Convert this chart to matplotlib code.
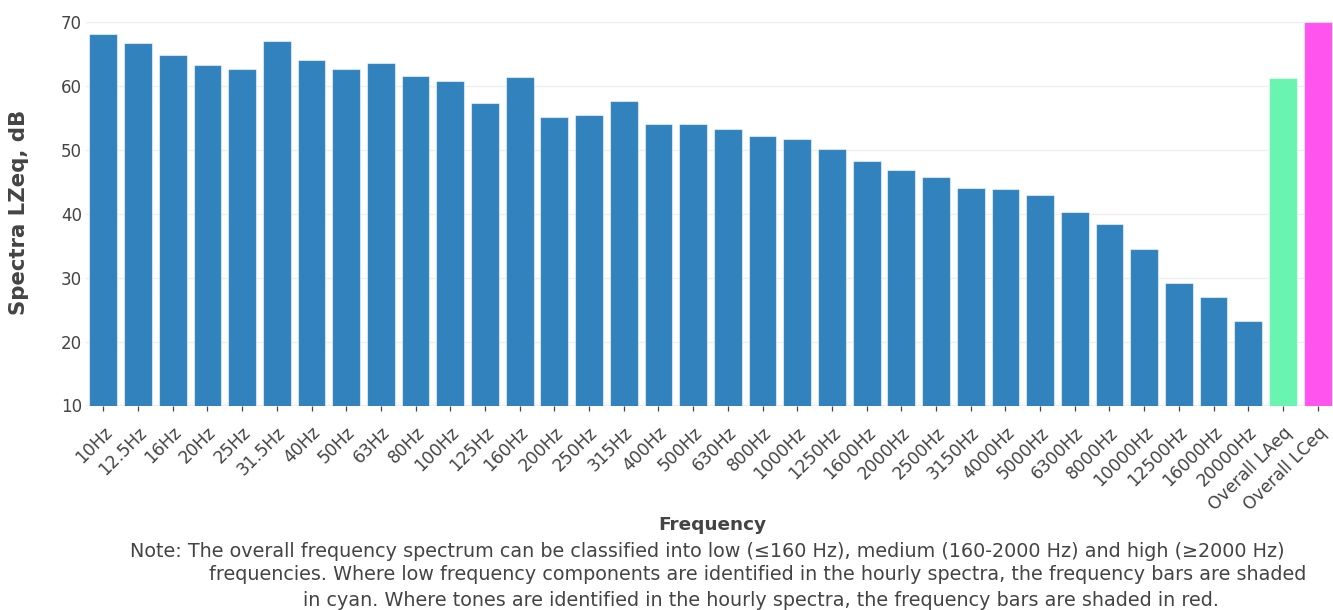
import matplotlib
matplotlib.use("Agg")
import matplotlib.pyplot as plt
import matplotlib.transforms as mtransforms

# Third-octave band levels plus overall A- and C-weighted levels
bands = ["10Hz", "12.5Hz", "16Hz", "20Hz", "25Hz", "31.5Hz", "40Hz", "50Hz",
         "63Hz", "80Hz", "100Hz", "125Hz", "160Hz", "200Hz", "250Hz", "315Hz",
         "400Hz", "500Hz", "630Hz", "800Hz", "1000Hz", "1250Hz", "1600Hz",
         "2000Hz", "2500Hz", "3150Hz", "4000Hz", "5000Hz", "6300Hz", "8000Hz",
         "10000Hz", "12500Hz", "16000Hz", "20000Hz"]
band_levels = [68.2, 66.7, 64.8, 63.2, 62.6, 67.0, 64.0, 62.6,
               63.6, 61.6, 60.8, 57.3, 61.4, 55.2, 55.4, 57.7,
               54.0, 54.1, 53.2, 52.1, 51.7, 50.1, 48.2,
               46.9, 45.8, 44.1, 43.8, 42.9, 40.2, 38.4,
               34.5, 29.2, 27.0, 23.2]
overall_labels = ["Overall LAeq", "Overall LCeq"]
overall_levels = [61.2, 70.0]

y_ticks = [10, 20, 30, 40, 50, 60, 70]

note_lines = [
    "Note: The overall frequency spectrum can be classified into low (\u2264160 Hz), medium (160-2000 Hz) and high (\u22652000 Hz)",
    "frequencies. Where low frequency components are identified in the hourly spectra, the frequency bars are shaded",
    "in cyan. Where tones are identified in the hourly spectra, the frequency bars are shaded in red.",
]

BAND_COLOR = "#3182bd"
OVERALL_COLORS = ["#69f4b0", "#ff55ee"]
TEXT = "#444444"

W, H = 1333, 610
fig = plt.figure(figsize=(W / 100, H / 100), dpi=100)
plt.rcParams["font.family"] = ["DejaVu Sans"]

left, right, top, bottom = 86, 1335, 22, 405.5
ax = fig.add_axes([left / W, 1 - bottom / H, (right - left) / W, (bottom - top) / H])

labels = bands + overall_labels
values = band_levels + overall_levels
colors = [BAND_COLOR] * len(bands) + OVERALL_COLORS
xs = list(range(len(labels)))

ax.bar(xs, values, width=0.8, color=colors, edgecolor=(1, 1, 1, 0.55),
       linewidth=0.8, zorder=2)

ax.set_xlim(-0.5, len(labels) - 0.5)
ax.set_ylim(10, 70)
ax.set_yticks(y_ticks)
ax.set_yticklabels([str(t) for t in y_ticks])
ax.yaxis.grid(True, color="#eeeeee", linewidth=1.0, zorder=0)
ax.set_axisbelow(True)
for s in ax.spines.values():
    s.set_visible(False)

ax.tick_params(axis="y", length=0, pad=3, labelsize=12, labelcolor=TEXT)
ax.tick_params(axis="x", length=3.6, width=0.9, color=TEXT, pad=14,
               labelsize=12.3, labelcolor=TEXT)

ax.set_xticks(xs)
ax.set_xticklabels(labels, rotation=45, ha="right", va="center",
                   rotation_mode="anchor")
shift = mtransforms.ScaledTranslation(6 / 100, 0, fig.dpi_scale_trans)
for lab in ax.get_xticklabels():
    lab.set_transform(lab.get_transform() + shift)

renderer = fig.canvas.get_renderer()


def fit_size(txt, target_px, size0):
    txt.set_fontsize(size0)
    w = txt.get_window_extent(renderer).width
    txt.set_fontsize(size0 * target_px / w)
    return txt.get_fontsize()


# axis titles
ylab = fig.text(19 / W, 1 - 212 / H, "Spectra LZeq, dB", rotation=90,
                ha="center", va="center", fontweight="bold", color=TEXT)
ylab.set_rotation(0)
fit_size(ylab, 205, 12)
ylab.set_rotation(90)

xlab = fig.text(712 / W, 1 - 525 / H, "Frequency", ha="center", va="center",
                fontweight="bold", color=TEXT)
fit_size(xlab, 108, 12)

# explanatory note beneath the axis title
note_centers = [(707.4, 551.7), (757.2, 575.0), (760.8, 600.0)]
t0 = fig.text(note_centers[0][0] / W, 1 - note_centers[0][1] / H, note_lines[0],
              ha="center", va="center", color=TEXT)
note_size = fit_size(t0, 1149, 12)
for line, (cx, cy) in zip(note_lines[1:], note_centers[1:]):
    fig.text(cx / W, 1 - cy / H, line, ha="center", va="center",
             color=TEXT, fontsize=note_size)

fig.savefig("out.png", dpi=100)
